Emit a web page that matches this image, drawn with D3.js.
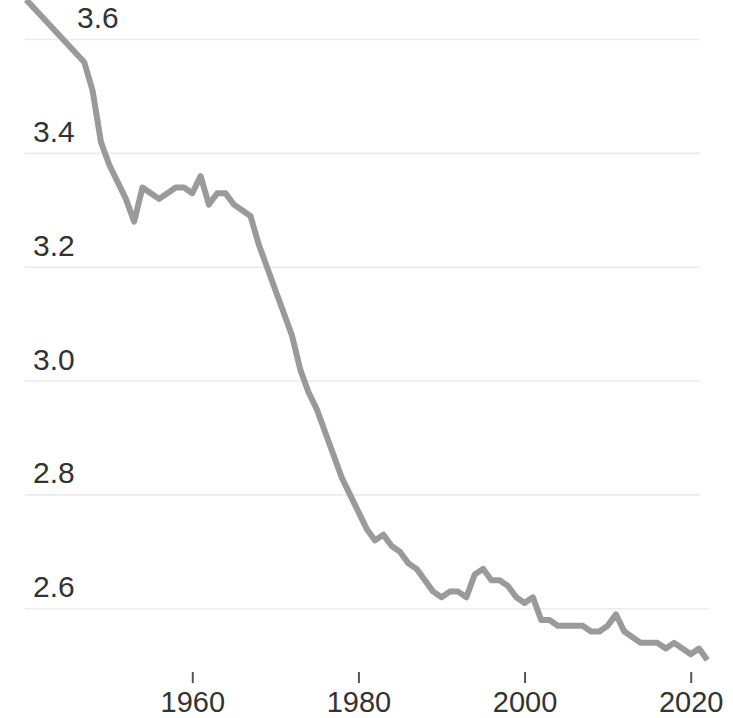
<!DOCTYPE html>
<html>
<head>
<meta charset="utf-8">
<script src="https://cdn.jsdelivr.net/npm/d3@7"></script>
<style>
  html, body { margin: 0; padding: 0; background: #fff; }
  svg { display: block; }
</style>
</head>
<body>
<svg id="chart" width="733" height="718"></svg>
<script>
// average household size, by year
var years = [1940,
  1947, 1948, 1949, 1950, 1951, 1952, 1953, 1954, 1955, 1956, 1957, 1958, 1959,
  1960, 1961, 1962, 1963, 1964, 1965, 1966, 1967, 1968, 1969,
  1970, 1971, 1972, 1973, 1974, 1975, 1976, 1977, 1978, 1979,
  1980, 1981, 1982, 1983, 1984, 1985, 1986, 1987, 1988, 1989,
  1990, 1991, 1992, 1993, 1994, 1995, 1996, 1997, 1998, 1999,
  2000, 2001, 2002, 2003, 2004, 2005, 2006, 2007, 2008, 2009,
  2010, 2011, 2012, 2013, 2014, 2015, 2016, 2017, 2018, 2019,
  2020, 2021, 2022];
var sizes = [3.67,
  3.56, 3.51, 3.42, 3.38, 3.35, 3.32, 3.28, 3.34, 3.33, 3.32, 3.33, 3.34, 3.34,
  3.33, 3.36, 3.31, 3.33, 3.33, 3.31, 3.30, 3.29, 3.24, 3.20,
  3.16, 3.12, 3.08, 3.02, 2.98, 2.95, 2.91, 2.87, 2.83, 2.80,
  2.77, 2.74, 2.72, 2.73, 2.71, 2.70, 2.68, 2.67, 2.65, 2.63,
  2.62, 2.63, 2.63, 2.62, 2.66, 2.67, 2.65, 2.65, 2.64, 2.62,
  2.61, 2.62, 2.58, 2.58, 2.57, 2.57, 2.57, 2.57, 2.56, 2.56,
  2.57, 2.59, 2.56, 2.55, 2.54, 2.54, 2.54, 2.53, 2.54, 2.53,
  2.52, 2.53, 2.51];

var yTicks = [3.6, 3.4, 3.2, 3.0, 2.8, 2.6];
var xTicks = [1960, 1980, 2000, 2020];

var data = years.map(function(d, i) { return {year: d, size: sizes[i]}; });

var svg = d3.select('#chart');
var font = '"Liberation Sans", Arial, sans-serif';

var x = d3.scaleLinear().domain([1960, 2020]).range([192.3, 690.7]);
var y = d3.scaleLinear().domain([2.6, 3.6]).range([608.7, 39.5]);

// gridlines
svg.append('g').attr('class', 'grid')
  .selectAll('line').data(yTicks).enter().append('line')
    .attr('x1', 25)
    .attr('x2', function(d) { return d === 2.6 ? 709 : 700; })
    .attr('y1', function(d) { return y(d); })
    .attr('y2', function(d) { return y(d); })
    .attr('stroke', '#ebebeb')
    .attr('stroke-width', 1.6);

// y labels sit above their gridline
svg.append('g').attr('class', 'ylabels')
  .selectAll('text').data(yTicks).enter().append('text')
    .attr('x', function(d, i) { return i === 0 ? 77 : 33; })
    .attr('y', function(d) { return y(d) - 11.5; })
    .style('font-family', font)
    .style('font-size', '30px')
    .attr('fill', '#333')
    .text(function(d) { return d3.format('.1f')(d); });

// the line
var line = d3.line()
  .x(function(d) { return x(d.year); })
  .y(function(d) { return y(d.size); });

svg.append('path')
  .datum(data)
  .attr('d', line)
  .attr('fill', 'none')
  .attr('stroke', '#9a9a9a')
  .attr('stroke-width', 6)
  .attr('stroke-linejoin', 'round')
  .attr('stroke-linecap', 'butt');

// x axis
var xAxis = d3.axisBottom(x).tickValues(xTicks).tickSize(11).tickFormat(d3.format('d'));
var gx = svg.append('g')
  .attr('class', 'x_axis')
  .attr('transform', 'translate(0,672)')
  .call(xAxis);
gx.select('.domain').remove();
gx.selectAll('.tick line').attr('stroke', '#555').attr('stroke-width', 2);
gx.selectAll('.tick text')
  .attr('y', 39.5)
  .attr('dy', null)
  .attr('fill', '#333')
  .style('font-family', font)
  .style('font-size', '29px');
</script>
</body>
</html>
